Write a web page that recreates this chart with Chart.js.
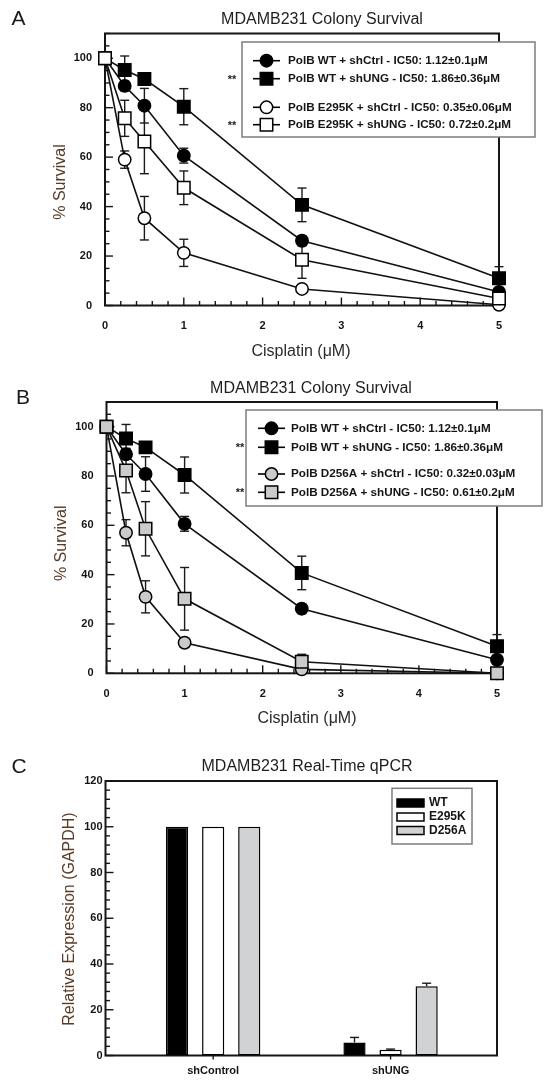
<!DOCTYPE html>
<html><head><meta charset="utf-8">
<script src="https://cdn.jsdelivr.net/npm/chart.js@4.4.1/dist/chart.umd.min.js"></script>
<style>
html,body{margin:0;padding:0;background:#fff;}
#wrap{position:relative;width:550px;height:1084px;overflow:hidden;}
canvas{position:absolute;left:0;}
</style></head><body>
<div id="wrap">
<canvas id="cA" width="550" height="365" style="top:0px"></canvas>
<canvas id="cB" width="550" height="365" style="top:370px"></canvas>
<canvas id="cC" width="550" height="344" style="top:740px"></canvas>
</div>
<script>
// ---------------- DATA ----------------
const doses = [0, 0.25, 0.5, 1, 2.5, 5];
const doseTicks = [0, 1, 2, 3, 4, 5];
const doseTickLabels = ['0', '1', '2', '3', '4', '5'];
const survivalTicks = [0, 20, 40, 60, 80, 100];
const survivalTickLabels = ['0', '20', '40', '60', '80', '100'];

const wtShCtrl      = [100, 88.8, 80.8, 60.6, 26.2, 5.5];
const wtShCtrlErr   = [0, 2, 7, 3, 2, 1];
const wtShUNG       = [100, 95.2, 91.6, 80.4, 40.7, 11];
const wtShUNGErr    = [0, 5.7, 1.5, 7.3, 6.8, 4.7];
const e295kShCtrl   = [100, 59, 35.3, 21.3, 6.7, 0.3];
const e295kShCtrlErr= [0, 3.5, 8.8, 5.5, 1, 0.5];
const e295kShUNG    = [100, 75.7, 66.3, 47.6, 18.5, 2.8];
const e295kShUNGErr = [0, 7.3, 13, 6.8, 7.5, 1];
const d256aShCtrl   = [100, 57, 31, 12.4, 1.6, 0];
const d256aShCtrlErr= [0, 5.3, 6.5, 1, 0.5, 0];
const d256aShUNG    = [100, 82.2, 58.6, 30.2, 4.7, 0];
const d256aShUNGErr = [0, 9, 11, 12.7, 3, 0];

const labelWtShCtrl    = 'PolB WT + shCtrl - IC50: 1.12±0.1μM';
const labelWtShUNG     = 'PolB WT + shUNG - IC50: 1.86±0.36μM';
const labelE295kShCtrl = 'PolB E295K + shCtrl - IC50: 0.35±0.06μM';
const labelE295kShUNG  = 'PolB E295K + shUNG - IC50: 0.72±0.2μM';
const labelD256aShCtrl = 'PolB D256A + shCtrl - IC50: 0.32±0.03μM';
const labelD256aShUNG  = 'PolB D256A + shUNG - IC50: 0.61±0.2μM';

const qpcrCategories = ['shControl', 'shUNG'];
const qpcrTicks = [0, 20, 40, 60, 80, 100, 120];
const qpcrTickLabels = ['0', '20', '40', '60', '80', '100', '120'];
const qpcrWT       = [100, 5.7];
const qpcrWTErr    = [0, 2.2];
const qpcrE295K    = [100, 2.5];
const qpcrE295KErr = [0, 0.3];
const qpcrD256A    = [100, 30.3];
const qpcrD256AErr = [0, 1.3];

// ---------------- HELPERS ----------------
const FONT = '"Liberation Sans", Arial, Helvetica, sans-serif';
const INK = '#151515';

function seg(ctx, x1, y1, x2, y2) { ctx.beginPath(); ctx.moveTo(x1, y1); ctx.lineTo(x2, y2); ctx.stroke(); }

function drawMarker(ctx, style, r, x, y, fill) {
  ctx.save();
  ctx.fillStyle = fill; ctx.strokeStyle = '#000'; ctx.lineWidth = 1.5;
  ctx.beginPath();
  if (style === 'rect') { const s = r * Math.SQRT1_2; ctx.rect(x - s, y - s, 2 * s, 2 * s); }
  else ctx.arc(x, y, r, 0, Math.PI * 2);
  ctx.fill(); ctx.stroke();
  ctx.restore();
}

function txt(ctx, s, x, y, font, color, align, rot) {
  ctx.save();
  ctx.font = font; ctx.fillStyle = color; ctx.textAlign = align || 'center'; ctx.textBaseline = 'middle';
  ctx.translate(x, y);
  if (rot) ctx.rotate(rot);
  ctx.fillText(s, 0, 0);
  ctx.restore();
}

function makeDecor(cfg) {
  return {
    id: 'decor',
    beforeDatasetsDraw(chart) {
      const ctx = chart.ctx, a = chart.chartArea, xs = chart.scales.x, ys = chart.scales.y;
      ctx.save();
      ctx.strokeStyle = INK; ctx.lineWidth = 1.4;
      cfg.yMinor.forEach(t => { const p = ys.getPixelForValue(t.v); seg(ctx, a.left, p, a.left + (t.major ? 8 : 4.5), p); });
      if (cfg.xMinor) cfg.xMinor.forEach(t => { const p = xs.getPixelForValue(t.v); seg(ctx, p, a.bottom, p, a.bottom - (t.major ? 8 : 4.5)); });
      if (cfg.xOutTicks) cfg.xOutTicks.forEach(v => { const p = xs.getPixelForValue(v); seg(ctx, p, a.bottom, p, a.bottom + 4); });
      ctx.lineWidth = 2;
      ctx.strokeRect(a.left, a.top, a.right - a.left, a.bottom - a.top);
      if (cfg.errorsBefore) drawErrors(chart, cfg.errors, true);
      ctx.restore();
    },
    afterDatasetsDraw(chart) {
      const ctx = chart.ctx;
      if (!cfg.errorsBefore) drawErrors(chart, cfg.errors, false);
      const L = cfg.legend;
      if (L) {
        ctx.save();
        ctx.fillStyle = '#fff'; ctx.strokeStyle = '#7d7d7d'; ctx.lineWidth = 1.5;
        ctx.fillRect(L.box[0], L.box[1], L.box[2] - L.box[0], L.box[3] - L.box[1]);
        ctx.strokeRect(L.box[0], L.box[1], L.box[2] - L.box[0], L.box[3] - L.box[1]);
        chart.data.datasets.forEach((ds, i) => {
          const y = L.rowsY[i];
          if (L.type === 'line') {
            ctx.strokeStyle = '#000'; ctx.lineWidth = 1.6;
            seg(ctx, L.lineX[0], y, L.lineX[1], y);
            drawMarker(ctx, ds.pointStyle, ds.pointRadius, L.markerX, y, ds.pointBackgroundColor);
            if (L.stars[i]) txt(ctx, '**', L.starX, y + 1, 'bold 11px ' + FONT, '#222', 'center');
          } else {
            ctx.fillStyle = ds.backgroundColor; ctx.strokeStyle = '#000'; ctx.lineWidth = 1.5;
            ctx.fillRect(L.swX[0], y - 4, L.swX[1] - L.swX[0], 8);
            ctx.strokeRect(L.swX[0], y - 4, L.swX[1] - L.swX[0], 8);
          }
          txt(ctx, ds.label, L.textX, y, L.font, INK, 'left');
        });
        ctx.restore();
      }
    },
    afterDraw(chart) {
      const ctx = chart.ctx, T = cfg.text;
      txt(ctx, T.letter[0], T.letter[1], T.letter[2], '21px ' + FONT, '#1a1a1a', 'center');
      txt(ctx, T.title[0], T.title[1], T.title[2], '16px ' + FONT, '#1e1e1e', 'center');
      if (T.xTitle) txt(ctx, T.xTitle[0], T.xTitle[1], T.xTitle[2], '16px ' + FONT, '#2a2a2a', 'center');
      if (T.yTitle) txt(ctx, T.yTitle[0], T.yTitle[1], T.yTitle[2], '16px ' + FONT, '#5a3b28', 'center', -Math.PI / 2);
    }
  };
}

function drawErrors(chart, errors, both) {
  const ctx = chart.ctx, ys = chart.scales.y;
  ctx.save();
  ctx.strokeStyle = '#1a1a1a'; ctx.lineWidth = 1.4;
  chart.data.datasets.forEach((ds, i) => {
    const meta = chart.getDatasetMeta(i);
    errors[i].forEach((e, j) => {
      if (!e) return;
      const v = ds.data[j].y, x = meta.data[j].x;
      const yt = ys.getPixelForValue(v + e);
      const yb = both ? ys.getPixelForValue(v - e) : ys.getPixelForValue(v);
      seg(ctx, x, yt, x, yb);
      seg(ctx, x - 4.5, yt, x + 4.5, yt);
      if (both) seg(ctx, x - 4.5, yb, x + 4.5, yb);
    });
  });
  ctx.restore();
}

const survMinorY = []; for (let k = 0; k <= 22; k++) survMinorY.push({ v: k * 5, major: k % 4 === 0 });
const survMinorX = []; for (let k = 0; k <= 25; k++) survMinorX.push({ v: k / 5, major: k % 5 === 0 });
const qpcrMinorY = []; for (let k = 0; k <= 30; k++) qpcrMinorY.push({ v: k * 4, major: k % 5 === 0 });

const tickFont = { family: FONT, size: 11, weight: 'bold' };

function survivalChart(id, series, geom, legend, text) {
  const datasets = series.map((s, i) => ({
    label: s.label,
    data: doses.map((d, j) => ({ x: d, y: s.values[j] })),
    borderColor: '#111', borderWidth: 1.6, tension: 0, fill: false, clip: false,
    pointStyle: s.style, pointRadius: s.style === 'rect' ? 8.8 : 6.2, pointHoverRadius: s.style === 'rect' ? 8.8 : 6.2,
    pointBackgroundColor: s.fill, pointBorderColor: '#000', pointBorderWidth: 1.5,
    backgroundColor: s.fill, order: series.length - i
  }));
  new Chart(document.getElementById(id), {
    type: 'line',
    data: { datasets },
    options: {
      responsive: false, animation: false, events: [],
      layout: { padding: { left: 0, top: geom.top, right: 550 - geom.right, bottom: 0 } },
      plugins: { legend: { display: false }, title: { display: false }, tooltip: { enabled: false } },
      scales: {
        x: {
          type: 'linear', min: 0, max: 5,
          afterBuildTicks: sc => { sc.ticks = doseTicks.map(v => ({ value: v })); },
          afterFit: sc => { sc.height = geom.H - geom.bottom; },
          grid: { display: false, drawTicks: false }, border: { display: false },
          ticks: { padding: 14, font: tickFont, color: INK, maxRotation: 0, autoSkip: false, callback: (v, i) => doseTickLabels[i] }
        },
        y: {
          type: 'linear', min: 0, max: 110,
          afterBuildTicks: sc => { sc.ticks = survivalTicks.map(v => ({ value: v })); },
          afterFit: sc => { sc.width = geom.left; },
          grid: { display: false, drawTicks: false }, border: { display: false },
          ticks: { padding: 13, font: tickFont, color: INK, autoSkip: false, callback: (v, i) => survivalTickLabels[i] }
        }
      }
    },
    plugins: [makeDecor({
      yMinor: survMinorY, xMinor: survMinorX, errors: series.map(s => s.err), errorsBefore: true,
      legend, text
    })]
  });
}

survivalChart('cA', [
  { label: labelWtShCtrl, values: wtShCtrl, err: wtShCtrlErr, style: 'circle', fill: '#000' },
  { label: labelWtShUNG, values: wtShUNG, err: wtShUNGErr, style: 'rect', fill: '#000' },
  { label: labelE295kShCtrl, values: e295kShCtrl, err: e295kShCtrlErr, style: 'circle', fill: '#fff' },
  { label: labelE295kShUNG, values: e295kShUNG, err: e295kShUNGErr, style: 'rect', fill: '#fff' }
], { left: 105, right: 499, top: 33.5, bottom: 305.5, H: 365 },
{ type: 'line', box: [242, 42, 535, 137], rowsY: [60.7, 78.7, 107.3, 124.7], lineX: [253, 280], markerX: 266.5, textX: 288, starX: 232, stars: [false, true, false, true], font: 'bold 11.7px ' + FONT },
{ letter: ['A', 18.5, 19], title: ['MDAMB231 Colony Survival', 322, 20], xTitle: ['Cisplatin (μM)', 301, 352], yTitle: ['% Survival', 61, 182] });

survivalChart('cB', [
  { label: labelWtShCtrl, values: wtShCtrl, err: wtShCtrlErr, style: 'circle', fill: '#000' },
  { label: labelWtShUNG, values: wtShUNG, err: wtShUNGErr, style: 'rect', fill: '#000' },
  { label: labelD256aShCtrl, values: d256aShCtrl, err: d256aShCtrlErr, style: 'circle', fill: '#cbcbcb' },
  { label: labelD256aShUNG, values: d256aShUNG, err: d256aShUNGErr, style: 'rect', fill: '#cbcbcb' }
], { left: 106.5, right: 497, top: 32, bottom: 303.3, H: 365 },
{ type: 'line', box: [246, 40, 542, 136], rowsY: [58.3, 77.3, 104, 122.3], lineX: [258, 285], markerX: 271.5, textX: 291, starX: 240, stars: [false, true, false, true], font: 'bold 11.7px ' + FONT },
{ letter: ['B', 23, 28.5], title: ['MDAMB231 Colony Survival', 311, 18.3], xTitle: ['Cisplatin (μM)', 307, 348.3], yTitle: ['% Survival', 61.4, 173.3] });

// ---------------- PANEL C ----------------
(function () {
  const geom = { left: 105.5, right: 497, top: 41, bottom: 315.5, H: 344 };
  const series = [
    { label: 'WT', values: qpcrWT, err: qpcrWTErr, fill: '#000' },
    { label: 'E295K', values: qpcrE295K, err: qpcrE295KErr, fill: '#fff' },
    { label: 'D256A', values: qpcrD256A, err: qpcrD256AErr, fill: '#d0d2d4' }
  ];
  new Chart(document.getElementById('cC'), {
    type: 'bar',
    data: {
      datasets: series.map(s => ({
        label: s.label,
        data: qpcrCategories.map((c, j) => ({ x: j + 1, y: s.values[j] })),
        backgroundColor: s.fill, borderColor: '#000', borderWidth: 1.5, borderSkipped: false,
        categoryPercentage: 0.61, barPercentage: 0.615
      }))
    },
    options: {
      responsive: false, animation: false, events: [],
      layout: { padding: { left: 0, top: geom.top, right: 550 - geom.right, bottom: 0 } },
      plugins: { legend: { display: false }, title: { display: false }, tooltip: { enabled: false } },
      scales: {
        x: {
          type: 'linear', min: 0.393, max: 2.6, offset: false,
          afterBuildTicks: sc => { sc.ticks = qpcrCategories.map((c, j) => ({ value: j + 1 })); },
          afterFit: sc => { sc.height = geom.H - geom.bottom; },
          grid: { display: false, drawTicks: false }, border: { display: false },
          ticks: { padding: 9, font: tickFont, color: INK, maxRotation: 0, autoSkip: false, callback: (v, i) => qpcrCategories[i] }
        },
        y: {
          type: 'linear', min: 0, max: 120,
          afterBuildTicks: sc => { sc.ticks = qpcrTicks.map(v => ({ value: v })); },
          afterFit: sc => { sc.width = geom.left; },
          grid: { display: false, drawTicks: false }, border: { display: false },
          ticks: { padding: 3, font: tickFont, color: INK, autoSkip: false, callback: (v, i) => qpcrTickLabels[i] }
        }
      }
    },
    plugins: [makeDecor({
      yMinor: qpcrMinorY, xOutTicks: [1, 2], errors: series.map(s => s.err), errorsBefore: false,
      legend: { type: 'bar', box: [392, 48.3, 472, 104], rowsY: [63, 77, 90.5], swX: [397, 424], textX: 429, font: 'bold 12px ' + FONT },
      text: { letter: ['C', 19, 27], title: ['MDAMB231 Real-Time qPCR', 307, 26.7], yTitle: ['Relative Expression (GAPDH)', 70, 179] }
    })]
  });
})();
</script>
</body></html>
